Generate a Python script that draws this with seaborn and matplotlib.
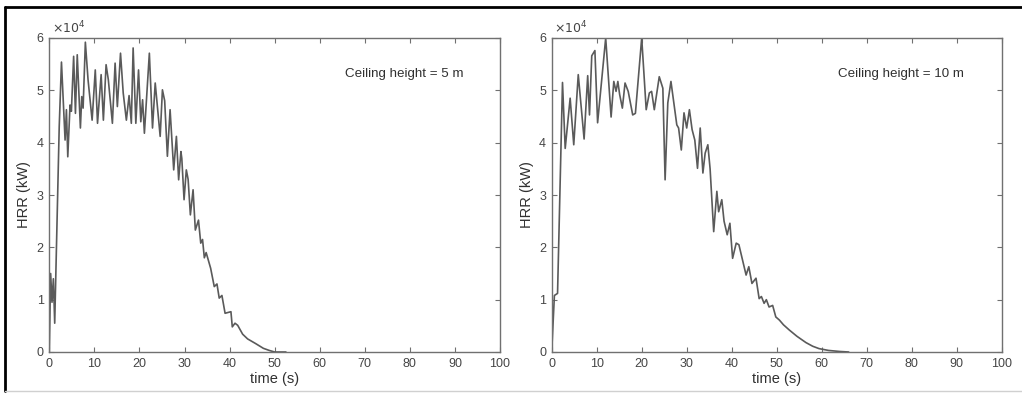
import matplotlib
matplotlib.use("Agg")
import matplotlib.pyplot as plt
import seaborn as sns
import pandas as pd
from matplotlib.lines import Line2D

# ---------------- data (HRR in units of 10^4 kW) ----------------
time_5m = [0, 0.3, 0.6, 0.9, 1.2, 2.2, 2.7, 3.5, 3.8, 4.1, 4.6, 4.9, 5.4, 5.8, 6.2, 6.9,
           7.2, 7.5, 8.0, 8.6, 9.5, 10.2, 10.7, 11.5, 12.0, 12.6, 13.1, 14.0, 14.6, 15.1,
           15.8, 16.4, 17.1, 17.7, 18.2, 18.6, 19.2, 19.8, 20.3, 20.7, 21.1, 22.2, 22.9,
           23.5, 24.6, 25.1, 25.6, 26.2, 26.8, 27.6, 28.2, 28.7, 29.2, 29.4, 29.9, 30.4,
           30.8, 31.3, 31.9, 32.4, 33.1, 33.6, 34.0, 34.4, 34.8, 35.4, 35.8, 36.6, 37.2,
           37.7, 38.3, 39.0, 40.3, 40.6, 41.2, 41.8, 42.9, 44.0, 45.8, 47.5, 48.8, 50.0, 52.5]
hrr_5m = [0, 1.5, 0.95, 1.4, 0.55, 4.3, 5.54, 4.05, 4.63, 3.73, 4.72, 4.6, 5.65, 4.56, 5.68,
          4.28, 4.88, 4.66, 5.92, 5.2, 4.43, 5.39, 4.37, 5.30, 4.43, 5.49, 5.2, 4.37, 5.52,
          4.69, 5.71, 4.95, 4.43, 4.9, 4.37, 5.81, 4.37, 5.39, 4.40, 4.82, 4.18, 5.71, 4.28,
          5.14, 4.12, 5.01, 4.8, 3.74, 4.63, 3.48, 4.12, 3.29, 3.83, 3.7, 2.91, 3.48, 3.3,
          2.62, 3.1, 2.33, 2.52, 2.08, 2.15, 1.8, 1.9, 1.72, 1.6, 1.25, 1.3, 1.03, 1.08, 0.74,
          0.77, 0.48, 0.55, 0.51, 0.34, 0.25, 0.16, 0.07, 0.03, 0.0, 0.0]

time_10m = [0, 0.6, 1.3, 2.4, 3.0, 4.1, 4.9, 5.9, 7.2, 8.0, 8.4, 8.9, 9.6, 10.2, 12.0, 13.2,
            13.8, 14.3, 14.7, 15.1, 15.7, 16.3, 17.0, 18.0, 18.6, 20.0, 21.0, 21.7, 22.2,
            22.8, 23.9, 24.7, 25.2, 25.8, 26.5, 27.0, 27.8, 28.2, 28.8, 29.4, 30.0, 30.6,
            31.2, 31.8, 32.4, 33.0, 33.6, 34.1, 34.7, 35.2, 36.0, 36.7, 37.1, 37.8, 38.3,
            39.0, 39.6, 40.2, 41.0, 41.6, 42.4, 43.2, 43.8, 44.5, 45.4, 46.1, 46.6, 47.2,
            47.7, 48.3, 49.1, 49.8, 50.6, 51.5, 52.8, 54.5, 56.5, 58.0, 59.4, 61.5, 64.0, 66.0]
hrr_10m = [0, 1.08, 1.12, 5.15, 3.89, 4.85, 3.96, 5.3, 4.07, 5.28, 4.53, 5.66, 5.76, 4.38, 6.0,
           4.49, 5.17, 4.98, 5.17, 4.92, 4.66, 5.14, 4.98, 4.53, 4.56, 6.0, 4.63, 4.95, 4.98,
           4.63, 5.26, 5.04, 3.29, 4.76, 5.17, 4.85, 4.34, 4.28, 3.86, 4.57, 4.28, 4.63, 4.25,
           4.05, 3.51, 4.28, 3.42, 3.8, 3.96, 3.5, 2.3, 3.07, 2.68, 2.91, 2.5, 2.24, 2.46, 1.79,
           2.08, 2.05, 1.76, 1.47, 1.63, 1.31, 1.41, 1.02, 1.06, 0.93, 1.0, 0.86, 0.89, 0.67,
           0.61, 0.52, 0.42, 0.3, 0.18, 0.11, 0.065, 0.03, 0.01, 0.0]

panel_labels = ["Ceiling height = 5 m", "Ceiling height = 10 m"]
x_ticks = list(range(0, 101, 10))
y_ticks = list(range(0, 7))

# ---------------- style ----------------
sns.set_theme(style="white")
plt.rcParams["font.family"] = ["Liberation Sans", "DejaVu Sans"]

LINE = "#5a5a5a"
AXC = "#707070"
TXT = "#454545"

fig = plt.figure(figsize=(10.22, 3.94), dpi=100)
W, H = 1022, 394
ax1 = fig.add_axes([49.3 / W, 1 - 352 / H, 450.7 / W, 314 / H])
ax2 = fig.add_axes([551.7 / W, 1 - 352 / H, 450.0 / W, 314 / H])

panels = [
    (ax1, time_5m, hrr_5m, panel_labels[0], 65.6),
    (ax2, time_10m, hrr_10m, panel_labels[1], 63.6),
]

for ax, t, v, lab, tx in panels:
    df = pd.DataFrame({"time": t, "hrr": v})
    sns.lineplot(data=df, x="time", y="hrr", ax=ax, color=LINE, linewidth=1.2,
                 estimator=None, sort=False)
    ax.set_xlim(0, 100)
    ax.set_ylim(0, 6)
    ax.set_xticks(x_ticks)
    ax.set_yticks(y_ticks)
    ax.set_facecolor("white")
    for s in ax.spines.values():
        s.set_visible(True)
        s.set_color(AXC)
        s.set_linewidth(1.0)
    ax.tick_params(direction="in", top=True, right=True, bottom=True, left=True,
                   length=3.5, width=0.8, color=AXC, labelsize=9,
                   labelcolor=TXT, pad=4)
    ax.set_xlabel("time (s)", fontsize=10.5, color="#303030", labelpad=2)
    ax.set_ylabel("HRR (kW)", fontsize=10.5, color="#303030", labelpad=4)
    ax.text(0.005, 1.004, r"$\times 10^{4}$", transform=ax.transAxes, ha="left",
            va="bottom", fontsize=9, color=TXT)
    ax.text(tx, 5.31, lab, ha="left", va="center", fontsize=9.6, color="#303030")

# outer frame like the source image
fig.add_artist(Line2D([4.5 / W, 4.5 / W], [1 - 7 / H, 1 - 391 / H], transform=fig.transFigure,
                      color="black", linewidth=2.0))
fig.add_artist(Line2D([4.5 / W, 1.0], [1 - 7 / H, 1 - 7 / H], transform=fig.transFigure,
                      color="black", linewidth=2.0))
fig.add_artist(Line2D([4.5 / W, 1.0], [1 - 391 / H, 1 - 391 / H], transform=fig.transFigure,
                      color="#d0d0d0", linewidth=1.0))

fig.savefig("out.png", dpi=100, facecolor="white")
